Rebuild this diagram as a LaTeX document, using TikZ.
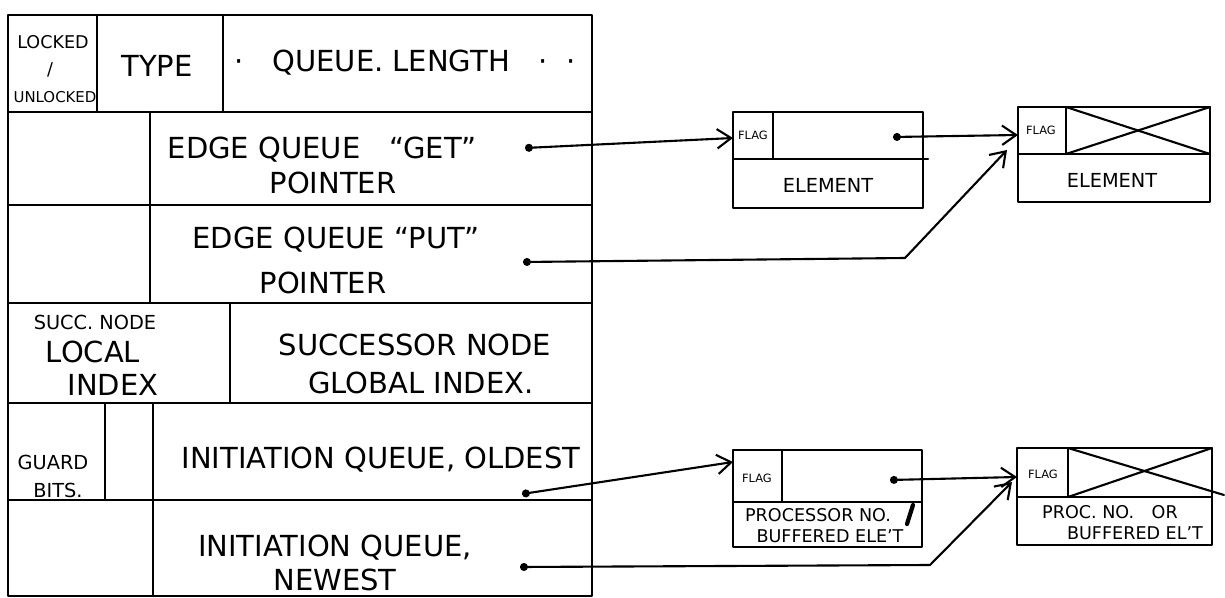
\documentclass[tikz,border=0pt]{standalone}
\usepackage{fontspec}
\setmainfont{DejaVu Sans}
\usetikzlibrary{arrows.meta}
\tikzset{
  ink/.style={line width=1.2pt, line cap=round, line join=round},
  lbl/.style={inner sep=0pt, font=\fontsize{16.5}{18}\selectfont},
  midlbl/.style={inner sep=0pt, font=\fontsize{11}{12}\selectfont},
  smalllbl/.style={inner sep=0pt, font=\fontsize{10}{11}\selectfont},
  tinylbl/.style={inner sep=0pt, font=\fontsize{8.5}{9}\selectfont},
  flaglbl/.style={inner sep=0pt, font=\fontsize{6.5}{7}\selectfont},
  ptr/.style={ink, {Circle[length=4.5pt]}-{Straight Barb[length=8pt,width=11pt]}},
}
\begin{document}
\begin{tikzpicture}[x=0.02cm,y=-0.02cm]
\useasboundingbox (0,0) rectangle (1225,598);

% ---------- main record ----------
\draw[ink] (8,15) rectangle (592,596);
\foreach \yy in {112,205,303,403,500} \draw[ink] (8,\yy) -- (592,\yy);
% row 1
\draw[ink] (97,15) -- (97,112);
\draw[ink] (223,15) -- (223,112);
% rows 2,3
\draw[ink] (150,112) -- (150,303);
% row 4
\draw[ink] (230,303) -- (230,403);
% rows 5,6
\draw[ink] (105,403) -- (105,500);
\draw[ink] (153,403) -- (153,596);

% row 1 texts
\node[smalllbl] (lk) at (53,42) {LOCKED};
\node[smalllbl] (sl) at (50,70) {/};
\node[tinylbl] (ul) at (55,97) {UNLOCKED};
\node[lbl] (type) at (157,66) {TYPE};
\node[lbl] (ql) at (405,63) {·\quad QUEUE. LENGTH\quad ·\ \ ·};
% row 2
\node[lbl] (eg1) at (322,150) {EDGE QUEUE\quad “GET”};
\node[lbl] (eg2) at (333,183) {POINTER};
% row 3
\node[lbl] (ep1) at (336,240) {EDGE QUEUE “PUT”};
\node[lbl] (ep2) at (323,283) {POINTER};
% row 4
\node[midlbl] (sn) at (95,322) {SUCC. NODE};
\node[lbl] (loc) at (93,352) {LOCAL};
\node[lbl] (ind) at (113,385) {INDEX};
\node[lbl] (sg1) at (415,345) {SUCCESSOR NODE};
\node[lbl] (sg2) at (421,383) {GLOBAL INDEX.};
% row 5
\node[midlbl] (gd) at (53,462) {GUARD};
\node[midlbl] (bt) at (58,490) {BITS.};
\node[lbl] (io) at (381,460) {INITIATION QUEUE, OLDEST};
% row 6
\node[lbl] (in1) at (335,548) {INITIATION QUEUE,};
\node[lbl] (in2) at (335,580) {NEWEST};

% pointer origins
\coordinate (pget) at (525,148);
\coordinate (pput) at (523,262);
\coordinate (pold) at (522,494);
\coordinate (pnew) at (520,567);

% ---------- element box 1 ----------
\draw[ink] (733,112) rectangle (923,208);
\draw[ink] (773,112) -- (773,159);
\draw[ink] (733,159) -- (928,159);
\node[flaglbl] (fl1) at (753,135) {FLAG};
\node[midlbl] (el1) at (828,185) {ELEMENT};
\coordinate (b1in) at (733,138);
\coordinate (b1p) at (893,137);

% ---------- element box 2 ----------
\draw[ink] (1018,107) rectangle (1210,202);
\draw[ink] (1066,107) -- (1066,154);
\draw[ink] (1018,154) -- (1210,154);
\draw[ink] (1066,107) -- (1210,154);
\draw[ink] (1066,154) -- (1210,107);
\node[flaglbl] (fl2) at (1041,130) {FLAG};
\node[midlbl] (el2) at (1112,180) {ELEMENT};
\coordinate (b2in) at (1018,135);
\coordinate (b2low) at (1007,150);

% ---------- element box 3 ----------
\draw[ink] (733,450) rectangle (922,547);
\draw[ink] (782,450) -- (782,502);
\draw[ink] (733,502) -- (922,502);
\node[flaglbl] (fl3) at (757,478) {FLAG};
\node[smalllbl] (pr3) at (818,515) {PROCESSOR NO.};
\node[smalllbl] (bf3) at (830,536) {BUFFERED ELE'T};
\draw[line width=2.4pt, line cap=round] (913,505) -- (907,524);
\coordinate (b3in) at (733,462);
\coordinate (b3p) at (890,480);

% ---------- element box 4 ----------
\draw[ink] (1017,448) rectangle (1212,545);
\draw[ink] (1068,448) -- (1068,497);
\draw[ink] (1017,497) -- (1212,497);
\draw[ink] (1068,448) -- (1224,495);
\draw[ink] (1068,497) -- (1212,448);
\node[flaglbl] (fl4) at (1043,474) {FLAG};
\node[smalllbl] (pr4) at (1110,512) {PROC. NO.\quad OR};
\node[smalllbl] (bf4) at (1135,533) {BUFFERED EL'T};
\coordinate (b4in) at (1017,477);
\coordinate (b4low) at (1012,482);

% ---------- pointers ----------
\draw[ptr] (pget) -- (b1in);
\draw[ptr] (b1p) -- (b2in);
\draw[ptr] (pput) -- (905,258) -- (b2low);
\draw[ptr] (pold) -- (b3in);
\draw[ptr] (b3p) -- (b4in);
\draw[ptr] (pnew) -- (930,565) -- (b4low);
\end{tikzpicture}
\end{document}
